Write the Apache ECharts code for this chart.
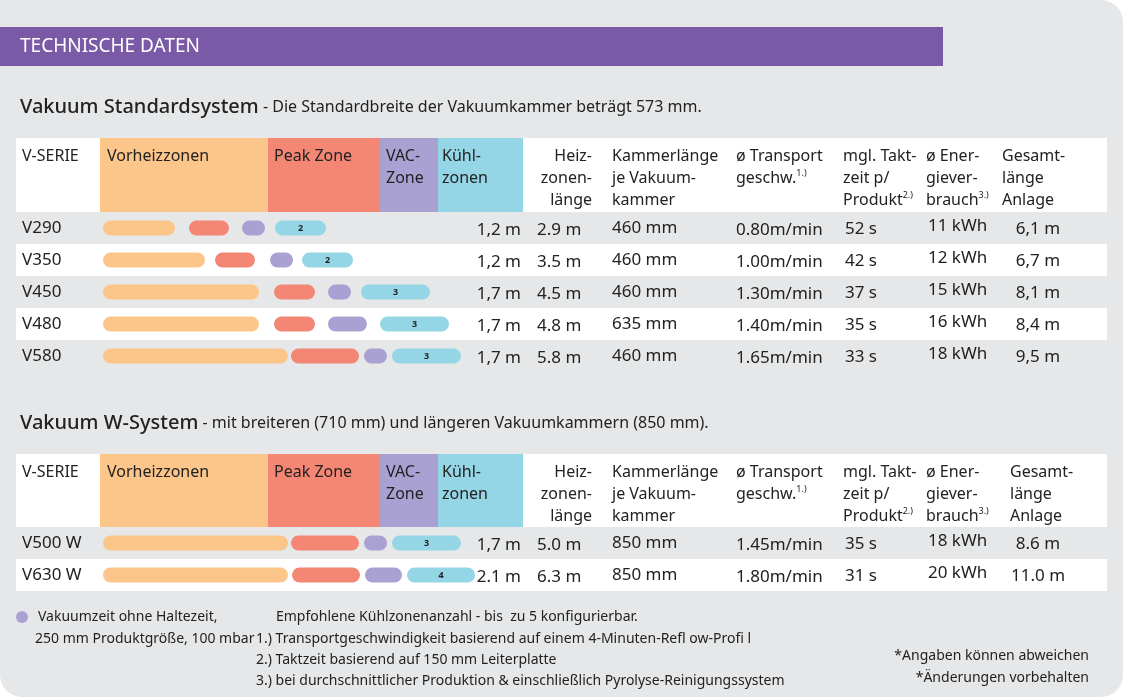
<!DOCTYPE html>
<html><head><meta charset="utf-8">
<script src="https://cdn.jsdelivr.net/npm/echarts@6/dist/echarts.min.js"></script>
<style>html,body{margin:0;padding:0;background:#fff}#c{width:1123px;height:697px}</style>
</head><body><div id="c"></div>
<script>
// ---- data ----
const stdModels = ['V290','V350','V450','V480','V580'];
const wModels = ['V500 W','V630 W'];
// zone segments: [gap before, length] per zone (orange, red, purple, blue)
const stdOrange = [[103,72],[103,102],[103,156],[103,156],[103,185]];
const stdRed    = [[14,40],[10,40],[15,41],[15,41],[3,68]];
const stdVac    = [[13,23],[15,23],[13,23],[13,39],[5,23]];
const stdKuehl  = [[10,51],[9,51],[10,69],[13,69],[5,69]];
const stdKuehlZones = [2,2,3,3,3];
const wOrange = [[103,185],[103,185]];
const wRed    = [[3,68],[4,68]];
const wVac    = [[5,23],[5,37]];
const wKuehl  = [[5,69],[5,68]];
const wKuehlZones = [3,4];
const stdKuehlLen = ['1,2 m','1,2 m','1,7 m','1,7 m','1,7 m'];
const stdHeiz = ['2.9 m','3.5 m','4.5 m','4.8 m','5.8 m'];
const stdKammer = ['460 mm','460 mm','460 mm','635 mm','460 mm'];
const stdSpeed = ['0.80m/min','1.00m/min','1.30m/min','1.40m/min','1.65m/min'];
const stdTakt = ['52 s','42 s','37 s','35 s','33 s'];
const stdEnergy = ['11 kWh','12 kWh','15 kWh','16 kWh','18 kWh'];
const stdTotal = ['6,1 m','6,7 m','8,1 m','8,4 m','9,5 m'];
const wKuehlLen = ['1,7 m','2.1 m'];
const wHeiz = ['5.0 m','6.3 m'];
const wKammer = ['850 mm','850 mm'];
const wSpeed = ['1.45m/min','1.80m/min'];
const wTakt = ['35 s','31 s'];
const wEnergy = ['18 kWh','20 kWh'];
const wTotal = ['8.6 m','11.0 m'];

const C = {orange:'#fcc58a', red:'#f48674', vac:'#a9a1d2', kuehl:'#95d6e6', purple:'#7a59a6', grey:'#e6e7e8'};
const FF = '"Noto Sans", "Open Sans", sans-serif';

function seriesFor(gi, orange, red, vac, kuehl, zones){
  const out = [];
  const st = 's'+gi;
  const parts = [[orange,C.orange],[red,C.red],[vac,C.vac],[kuehl,C.kuehl]];
  parts.forEach((p,k)=>{
    out.push({type:'bar', xAxisIndex:gi, yAxisIndex:gi, stack:st, barWidth:15, silent:true,
      itemStyle:{color:'transparent'}, data:p[0].map(d=>d[0])});
    const s = {type:'bar', xAxisIndex:gi, yAxisIndex:gi, stack:st, barWidth:15, silent:true,
      itemStyle:{color:p[1], borderRadius:8}, data:p[0].map(d=>d[1])};
    if(k===3){ s.label={show:true, position:'inside', fontSize:9, fontWeight:'bold', color:'#222', fontFamily:FF,
      formatter:q=>zones[q.dataIndex]}; }
    out.push(s);
  });
  return out;
}
function axes(){
  return {
    x:{type:'value', min:16, max:1107, show:false},
    y:{type:'category', inverse:true, axisLine:{show:false}, axisTick:{show:false},
       axisLabel:{inside:true, margin:6, fontSize:17, color:'#222', fontFamily:FF},
       splitArea:{show:true, areaStyle:{color:[C.grey,'#fff']}}}
  };
}
const a0=axes(), a1=axes();
const chart = echarts.init(document.getElementById('c'));
const opt = {
  animation:false,
  grid:[{left:16, width:1091, top:212, height:160},{left:16, width:1091, top:527, height:64}],
  xAxis:[Object.assign({gridIndex:0},a0.x),Object.assign({gridIndex:1},a1.x)],
  yAxis:[Object.assign({gridIndex:0,data:stdModels},a0.y),Object.assign({gridIndex:1,data:wModels},a1.y)],
  series:[].concat(seriesFor(0,stdOrange,stdRed,stdVac,stdKuehl,stdKuehlZones),
                   seriesFor(1,wOrange,wRed,wVac,wKuehl,wKuehlZones))
};
chart.setOption(opt);

function T(x,y,text,o){ return Object.assign({type:'text', x:x, y:y, z:10, style:Object.assign({text:text, fill:'#222', font:'16px '+FF, textVerticalAlign:'middle'}, o||{})}); }
const G = [];
// background
G.push({type:'rect', z:-10, shape:{x:0,y:0,width:1123,height:697,r:[0,22,22,22]}, style:{fill:C.grey}});
G.push({type:'rect', z:-9, shape:{x:0,y:27,width:943,height:39}, style:{fill:C.purple}});
G.push(T(20,47,'TECHNISCHE DATEN',{fill:'#fff', font:'19px '+FF}));
const ttl = {font:'16px '+FF, rich:{b:{font:'500 20px '+FF, fill:'#222'}}};
G.push(T(20,107,'{b|Vakuum Standardsystem} - Die Standardbreite der Vakuumkammer beträgt 573 mm.',ttl));
G.push(T(20,423,'{b|Vakuum W-System} - mit breiteren (710 mm) und längeren Vakuumkammern (850 mm).',ttl));

const sup = {s:{font:'9px '+FF, fill:'#222', padding:[0,0,10,0]}};
function header(y0){
  G.push({type:'rect', z:-5, shape:{x:16,y:y0,width:1091,height:74}, style:{fill:'#fff'}});
  [[100,168,C.orange],[268,112,C.red],[380,58,C.vac],[438,85,C.kuehl]].forEach(b=>
    G.push({type:'rect', z:-4, shape:{x:b[0],y:y0,width:b[1],height:74}, style:{fill:b[2]}}));
  const st = {textVerticalAlign:'top', lineHeight:22};
  G.push(T(22,y0+7,'V-SERIE',st));
  G.push(T(107,y0+7,'Vorheizzonen',st));
  G.push(T(274,y0+7,'Peak Zone',st));
  G.push(T(386,y0+7,'VAC-\nZone',st));
  G.push(T(442,y0+7,'Kühl-\nzonen',st));
  G.push(T(592,y0+7,'Heiz-\nzonen-\nlänge',Object.assign({textAlign:'right'},st)));
  G.push(T(612,y0+7,'Kammerlänge\nje Vakuum-\nkammer',st));
  G.push(T(736,y0+7,'ø Transport\ngeschw.{s|1.)}',Object.assign({rich:sup},st)));
  G.push(T(843,y0+7,'mgl. Takt-\nzeit p/\nProdukt{s|2.)}',Object.assign({rich:sup},st)));
  G.push(T(926,y0+7,'ø Ener-\ngiever-\nbrauch{s|3.)}',Object.assign({rich:sup},st)));
}
header(138); header(454);

function cols(gi, models, kl, hz, km, sp, tk, en, tot){
  models.forEach((m,i)=>{
    const y = chart.convertToPixel({xAxisIndex:gi, yAxisIndex:gi},[16,m])[1];
    G.push(T(521,y+2,kl[i],{textAlign:'right', font:'17px '+FF}));
    G.push(T(537,y+2,hz[i],{font:'17px '+FF}));
    G.push(T(612,y,km[i],{font:'17px '+FF}));
    G.push(T(736,y+2,sp[i],{font:'17px '+FF}));
    G.push(T(845,y+1,tk[i],{font:'17px '+FF}));
    G.push(T(928,y-2,en[i],{font:'17px '+FF}));
    G.push(T(1038,y+1,tot[i],{font:'17px '+FF, textAlign:'center'}));
  });
}
cols(0,stdModels,stdKuehlLen,stdHeiz,stdKammer,stdSpeed,stdTakt,stdEnergy,stdTotal);
cols(1,wModels,wKuehlLen,wHeiz,wKammer,wSpeed,wTakt,wEnergy,wTotal);
G.push(T(1002,145,'Gesamt-\nlänge\nAnlage',{textVerticalAlign:'top', lineHeight:22}));
G.push(T(1010,461,'Gesamt-\nlänge\nAnlage',{textVerticalAlign:'top', lineHeight:22}));

// footer
G.push({type:'circle', shape:{cx:22,cy:617,r:6}, style:{fill:C.vac}});
const f = {font:'14px '+FF};
G.push(T(38,617,'Vakuumzeit ohne Haltezeit,',f));
G.push(T(35,639,'250 mm Produktgröße, 100 mbar',f));
G.push(T(276,617,'Empfohlene Kühlzonenanzahl - bis  zu 5 konfigurierbar.',f));
G.push(T(256,639,'1.) Transportgeschwindigkeit basierend auf einem 4-Minuten-Refl ow-Profi l',f));
G.push(T(256,660,'2.) Taktzeit basierend auf 150 mm Leiterplatte',f));
G.push(T(256,681,'3.) bei durchschnittlicher Produktion & einschließlich Pyrolyse-Reinigungssystem',f));
G.push(T(1089,656,'*Angaben können abweichen',Object.assign({textAlign:'right'},f)));
G.push(T(1089,678,'*Änderungen vorbehalten',Object.assign({textAlign:'right'},f)));

chart.setOption({graphic:G});
</script></body></html>
